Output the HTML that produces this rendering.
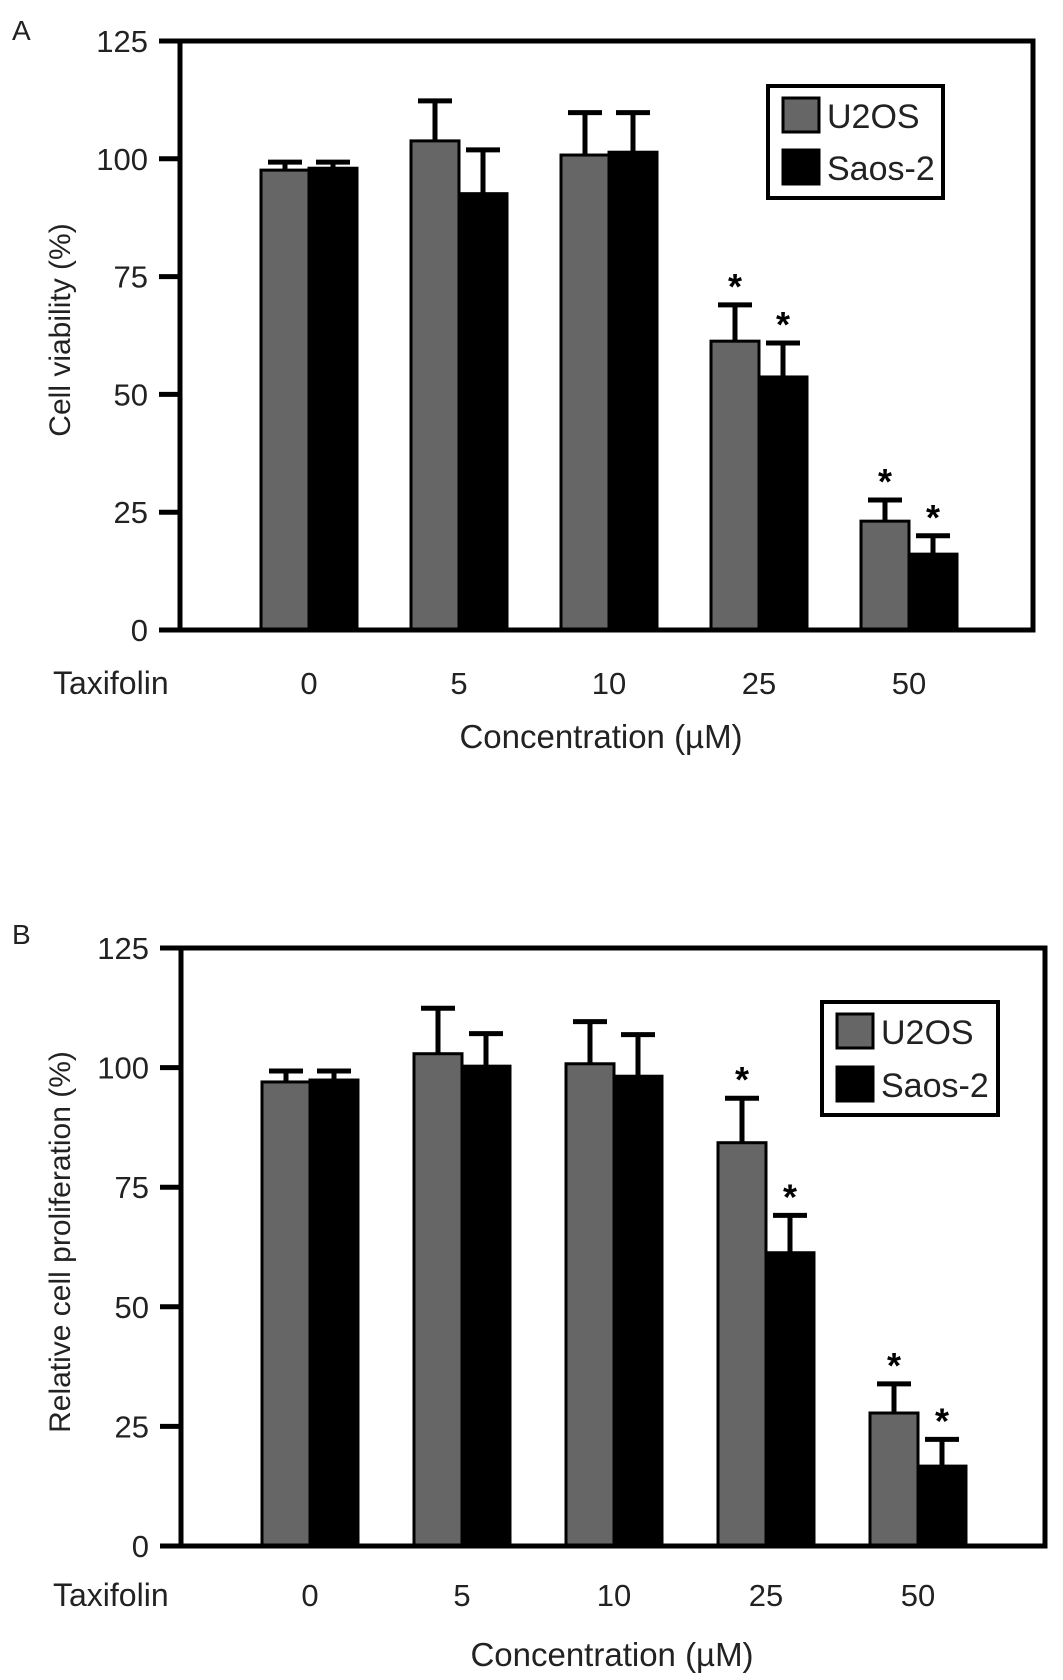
<!DOCTYPE html>
<html><head><meta charset="utf-8"><style>
html,body{margin:0;padding:0;background:#fff;}
svg{display:block;font-family:"Liberation Sans",Arial,sans-serif;}
</style></head><body>
<svg id="fig" width="1063" height="1680" viewBox="0 0 1063 1680" xmlns="http://www.w3.org/2000/svg">
<rect width="1063" height="1680" fill="#fff"/>
</svg>
<script>
const categories = ["0","5","10","25","50"];
const yTicks = [0,25,50,75,100,125];
const seriesNames = ["U2OS","Saos-2"];
const aU2OS = [97.6,103.8,100.8,61.3,23.1];
const aU2OSErr = [1.7,8.5,9.0,7.7,4.5];
const aSaos = [98.0,92.6,101.4,53.7,16.1];
const aSaosErr = [1.3,9.3,8.4,7.2,3.9];
const aSig = [false,false,false,true,true];
const bU2OS = [97.0,102.9,100.8,84.3,27.8];
const bU2OSErr = [2.3,9.5,8.8,9.3,6.1];
const bSaos = [97.4,100.3,98.2,61.3,16.7];
const bSaosErr = [1.9,6.8,8.7,7.8,5.6];
const bSig = [false,false,false,true,true];

const NS="http://www.w3.org/2000/svg";
const svg=document.getElementById('fig');
function mk(tag,attrs,parent){const e=document.createElementNS(NS,tag);for(const k in attrs)e.setAttribute(k,attrs[k]);(parent||svg).appendChild(e);return e;}

function panel(cfg){
  const g=mk('g',{});
  
  
  const y=v=>cfg.bottom-(v/125)*(cfg.bottom-cfg.top);
  const x=i=>cfg.x0+cfg.step*i;
  const bw=48;
  for(let i=0;i<categories.length;i++){
    const s=[[cfg.u,cfg.ue,'#666666',-bw],[cfg.s,cfg.se,'#000000',0]];
    s.forEach((d,k)=>{
      const v=d[0][i], e=d[1][i];
      const bx=x(i)+d[3];
      const r=mk('rect',{x:bx,y:y(v),width:bw,height:cfg.bottom-y(v),fill:d[2],stroke:'#000','stroke-width':3},g);
      
      
      const cx=bx+bw/2;
      const eb=mk('path',{d:`M${cx},${y(v)} V${y(v+e)} M${cx-17},${y(v+e)} H${cx+17}`,stroke:'#000','stroke-width':5,fill:'none'},g);
      
      
      if(cfg.sig[i]){
        const st=mk('text',{x:cx,y:y(v+e)-6,'text-anchor':'middle','font-size':36,'font-weight':'bold'},g);
        st.textContent='*';
        
        
      }
    });
    const cl=mk('text',{x:x(i),y:cfg.catY,'text-anchor':'middle','font-size':31,fill:'#222'},g);
    cl.textContent=categories[i];
    
    
  }
  const fr=mk('rect',{x:cfg.left,y:cfg.top,width:cfg.right-cfg.left,height:cfg.bottom-cfg.top,fill:'none',stroke:'#000','stroke-width':5},g);
  
  
  yTicks.forEach(t=>{
    const tl=mk('line',{x1:cfg.left-21,x2:cfg.left,y1:y(t),y2:y(t),stroke:'#000','stroke-width':5},g);
    
    
    const tx=mk('text',{x:cfg.left-32,y:y(t)+11,'text-anchor':'end','font-size':31,fill:'#222'},g);
    tx.textContent=t;
    
    
  });
  const tax=mk('text',{x:53,y:cfg.catY,'font-size':32,fill:'#222'},g);
  tax.textContent='Taxifolin';
  
  
  const xt=mk('text',{x:cfg.xtX,y:cfg.xtY,'text-anchor':'middle','font-size':33,fill:'#222'},g);
  xt.textContent='Concentration (\u00b5M)';
  
  
  const yt=mk('text',{x:0,y:0,'text-anchor':'middle','font-size':30,fill:'#222',transform:`translate(${70},${cfg.ytY}) rotate(-90)`},g);
  yt.textContent=cfg.ytitle;
  
  
  const pl=mk('text',{x:12,y:cfg.lblY,'font-size':28,fill:'#222'},g);
  pl.textContent=cfg.letter;
  
  
  const L=cfg.leg;
  const lg=mk('g',{},g);
  
  
  mk('rect',{x:L.x,y:L.y,width:L.w,height:L.h,fill:'#fff',stroke:'#000','stroke-width':4},lg);
  const cols=['#666666','#000000'];
  seriesNames.forEach((n,k)=>{
    const sy=L.y+12+k*L.gap;
    const sw=mk('rect',{x:L.x+15,y:sy,width:36,height:34,fill:cols[k],stroke:'#000','stroke-width':3},lg);
    
    
    const lt=mk('text',{x:L.x+59,y:sy+30,'font-size':34,fill:'#222'},lg);
    lt.textContent=n;
    
    
  });
}

panel({name:'panel-a',letter:'A',lblY:40,left:180,right:1033,top:41,bottom:630,x0:309,step:150,
  u:aU2OS,ue:aU2OSErr,s:aSaos,se:aSaosErr,sig:aSig,catY:694,xtX:601,xtY:748,ytY:330,
  ytitle:'Cell viability (%)',leg:{x:768,y:86,w:175,h:112,gap:52}});
panel({name:'panel-b',letter:'B',lblY:944,left:181,right:1045,top:948,bottom:1546,x0:310,step:152,
  u:bU2OS,ue:bU2OSErr,s:bSaos,se:bSaosErr,sig:bSig,catY:1606,xtX:612,xtY:1666,ytY:1242,
  ytitle:'Relative cell proliferation (%)',leg:{x:822,y:1002,w:176,h:113,gap:53}});
</script>
</body></html>
